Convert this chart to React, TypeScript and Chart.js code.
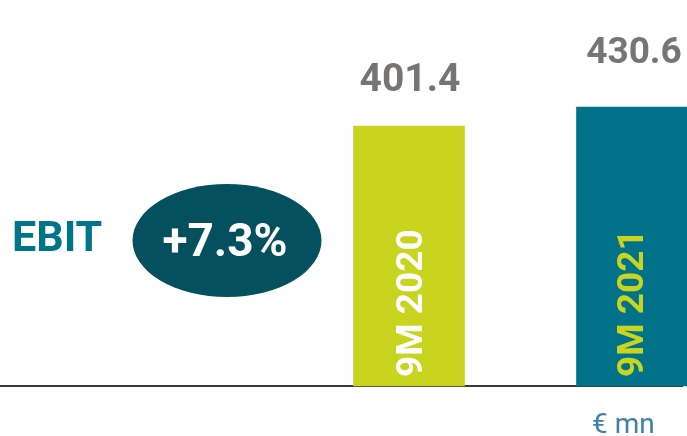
import React, { useEffect, useRef } from "react";
import { Chart, registerables } from "chart.js";

Chart.register(...registerables);

const categories = ["9M 2020", "9M 2021"];
const ebitValues = [401.4, 430.6];
const barColors = ["#c9d41f", "#00738b"];
const categoryLabelColors = ["#ffffff", "#c9d41f"];
const metricLabel = "EBIT";
const unitLabel = "€ mn";

export default function App() {
  const ref = useRef<HTMLCanvasElement>(null);

  useEffect(() => {
    document.body.style.margin = "0";
    const canvas = ref.current;
    if (!canvas) return;
    const growth = ((ebitValues[1] / ebitValues[0] - 1) * 100).toFixed(1);

    const overlay = {
      id: "overlay",
      afterDatasetsDraw(chart: any) {
        const ctx = chart.ctx as CanvasRenderingContext2D;
        const meta = chart.getDatasetMeta(0);
        const valueFonts = [39, 37];
        const valueGaps = [35, 44];
        const valueShift = [1, 2];
        const rotShift = [0, -2.5];
        ctx.save();
        meta.data.forEach((bar: any, i: number) => {
          ctx.font = `bold ${valueFonts[i]}px Roboto`;
          ctx.fillStyle = "#787473";
          ctx.textAlign = "center";
          ctx.textBaseline = "alphabetic";
          ctx.fillText(ebitValues[i].toFixed(1), bar.x + valueShift[i], bar.y - valueGaps[i]);

          ctx.save();
          ctx.translate(bar.x + rotShift[i] + 13.5, bar.base - 9);
          ctx.rotate(-Math.PI / 2);
          ctx.font = "bold 37px Roboto";
          ctx.fillStyle = categoryLabelColors[i];
          ctx.textAlign = "left";
          ctx.textBaseline = "alphabetic";
          ctx.fillText(categories[i], 0, 0);
          ctx.restore();
        });

        // metric label
        ctx.font = "bold 43px Roboto";
        ctx.fillStyle = "#007489";
        ctx.textAlign = "left";
        ctx.textBaseline = "alphabetic";
        ctx.fillText(metricLabel, 12, 251);

        // growth ellipse
        ctx.beginPath();
        ctx.ellipse(227, 240.5, 94.5, 56.5, 0, 0, Math.PI * 2);
        ctx.fillStyle = "#04505e";
        ctx.fill();
        ctx.font = "bold 46px Roboto";
        ctx.fillStyle = "#ffffff";
        ctx.textAlign = "center";
        ctx.fillText(`+${growth}%`, 225, 256);

        // unit
        ctx.font = "28px Roboto";
        ctx.fillStyle = "#3f7fa8";
        ctx.textAlign = "left";
        ctx.fillText(unitLabel, 592, 433);
        ctx.restore();
      },
    };

    const chart = new Chart(canvas, {
      type: "bar",
      data: {
        datasets: [
          {
            data: ebitValues.map((v, i) => ({ x: i, y: v })),
            backgroundColor: barColors,
            barThickness: 111,
            clip: false as any,
          },
        ],
      },
      options: {
        animation: false,
        responsive: false,
        devicePixelRatio: 1,
        layout: { padding: { left: 0, right: 5, top: 0, bottom: 50 } },
        plugins: { legend: { display: false }, tooltip: { enabled: false } },
        scales: {
          x: {
            type: "linear",
            offset: false,
            min: -1.834,
            max: 1.2242,
            grid: { display: false, drawTicks: false },
            ticks: { display: false },
            border: { display: true, color: "#3a3a3a", width: 2 },
          },
          y: { display: false, min: 0, max: 596 },
        },
      },
      plugins: [overlay],
    } as any);

    return () => chart.destroy();
  }, []);

  return (
    <div style={{ position: "fixed", left: 0, top: 0, width: 687, height: 436, background: "#fff" }}>
      <canvas ref={ref} width={687} height={436} style={{ display: "block" }} />
    </div>
  );
}
